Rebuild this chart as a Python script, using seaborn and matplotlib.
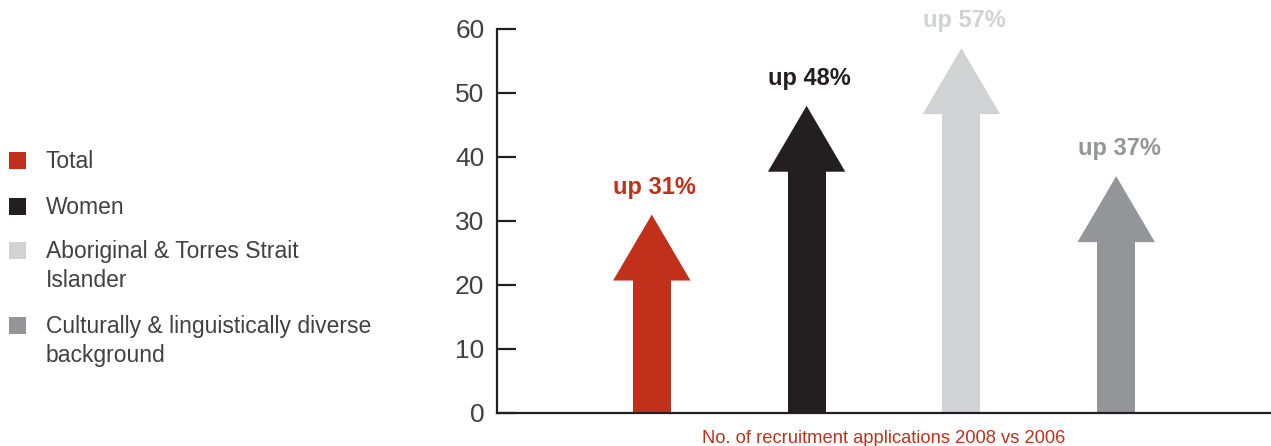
import matplotlib
matplotlib.use("Agg")
import matplotlib.pyplot as plt
from matplotlib.patches import Rectangle
import pandas as pd
import seaborn as sns

# Growth in recruitment applications, 2008 vs 2006 (per cent)
groups = [
    "Total",
    "Women",
    "Aboriginal & Torres Strait\nIslander",
    "Culturally & linguistically diverse\nbackground",
]
increase_pct = [31, 48, 57, 37]
colors = ["#c1301a", "#231f20", "#d1d2d4", "#939598"]
y_ticks = [0, 10, 20, 30, 40, 50, 60]
x_title = "No. of recruitment applications 2008 vs 2006"

# arrow geometry (data units)
HEAD_LEN = 10.3
SHAFT_W = 0.245
HEAD_W = 0.50
OVERLAP = 0.4  # shaft runs a little under the head so no seam shows

AXIS_COL = "#231f20"
TEXT_COL = "#414042"

sns.set_theme(style="white")
plt.rcParams["font.family"] = ["Liberation Sans", "DejaVu Sans"]

W, H = 1271, 446
fig = plt.figure(figsize=(W / 100, H / 100), dpi=100)
ax = fig.add_axes([497 / W, 1 - 413 / H, 1 - 497 / W, (413 - 29) / H])

df = pd.DataFrame({"group": groups, "pct": increase_pct})
df["shaft"] = df["pct"] - HEAD_LEN + OVERLAP

# arrow shafts
sns.barplot(data=df, x="group", y="shaft", hue="group", palette=colors,
            width=SHAFT_W, linewidth=0, saturation=1, legend=False, ax=ax)

# arrow heads and value labels
for i, (v, c) in enumerate(zip(increase_pct, colors)):
    base = v - HEAD_LEN
    ax.fill([i - HEAD_W / 2, i + HEAD_W / 2, i], [base, base, v],
            color=c, linewidth=0, zorder=3)
    ax.annotate(f"up {v}%", xy=(i, v), xytext=(2, 15),
                textcoords="offset points", ha="center", va="baseline",
                fontsize=17, fontweight="bold", color=c)

ax.set_xlim(-1, 4)
ax.set_ylim(0, 60)
ax.set_yticks(y_ticks)
ax.set_xticks([])
ax.set_ylabel("")
ax.set_xlabel(x_title, color="#c1301a", fontsize=13.2, labelpad=12)

for side in ("top", "right"):
    ax.spines[side].set_visible(False)
for side in ("left", "bottom"):
    ax.spines[side].set_color(AXIS_COL)
    ax.spines[side].set_linewidth(1.6)
ax.tick_params(axis="y", direction="in", length=13.5, width=1.6,
               color=AXIS_COL, labelsize=19, labelcolor=TEXT_COL, pad=9,
               left=True)

# legend on the left, drawn in pixel positions of the figure
legend_rows = [160, 206, 250, 325]
line_gap = 29
for label, c, yc in zip(groups, colors, legend_rows):
    fig.add_artist(Rectangle((9 / W, 1 - (yc + 8.5) / H), 17 / W, 17 / H,
                             transform=fig.transFigure, color=c, lw=0))
    for k, line in enumerate(label.split("\n")):
        fig.text(46 / W, 1 - (yc + 1.5 + k * line_gap) / H, line,
                 ha="left", va="center", fontsize=16.5, color=TEXT_COL)

fig.savefig("out.png", dpi=100)
